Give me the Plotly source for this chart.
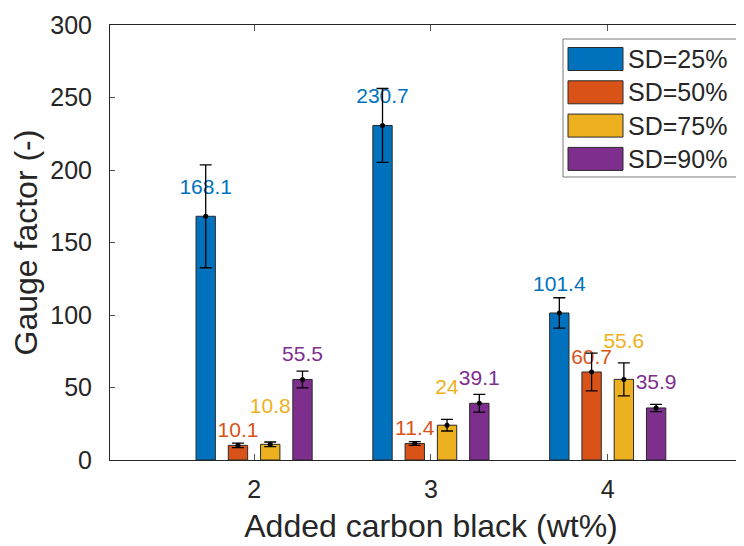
import plotly.graph_objects as go

# ---- data ----
categories = [2, 3, 4]
series_names = ["SD=25%", "SD=50%", "SD=75%", "SD=90%"]
sd25 = [168.1, 230.7, 101.4]
sd50 = [10.1, 11.4, 60.7]
sd75 = [10.8, 24.0, 55.6]
sd90 = [55.5, 39.1, 35.9]
err25 = [35.5, 25.5, 10.5]
err50 = [1.6, 1.3, 13.0]
err75 = [1.6, 4.0, 11.4]
err90 = [5.8, 6.1, 2.5]
y_ticks = [0, 50, 100, 150, 200, 250, 300]

values = [sd25, sd50, sd75, sd90]
errors = [err25, err50, err75, err90]

# ---- style ----
colors = ["#0072BD", "#D95319", "#EDB120", "#7E2F8E"]
label_offsets = [19.0, 9.3, 25.2, 16.5]   # label lift above bar top (data units)
FONT = "Liberation Sans, Arial, sans-serif"
AXC = "#262626"
W, H = 744, 546
OFF = 8  # page body margin
ML, MT, MB, MR = 102, 17, 94, 0
bargap = 0.27
slot = (1 - bargap) / len(values)

fig = go.Figure()
for name, vals, col in zip(series_names, values, colors):
    fig.add_trace(go.Bar(
        x=categories, y=vals, name=name, marker_color=col,
        marker_line=dict(color="#2a2a2a", width=1), showlegend=False,
    ))

# value labels (under the error bars)
for i, (vals, col, off) in enumerate(zip(values, colors, label_offsets)):
    xs = [c + (i - 1.5) * slot for c in categories]
    fig.add_trace(go.Scatter(
        x=xs, y=[v + off for v in vals], mode="text",
        text=[f"{v:g}" for v in vals], textposition="middle center",
        textfont=dict(family=FONT, size=21, color=col),
        showlegend=False, hoverinfo="skip",
    ))

# error bars with dots
for i, (vals, errs) in enumerate(zip(values, errors)):
    xs = [c + (i - 1.5) * slot for c in categories]
    fig.add_trace(go.Scatter(
        x=xs, y=vals, mode="markers",
        marker=dict(color="black", size=5),
        error_y=dict(type="data", array=errs, visible=True,
                     color="black", thickness=1.3, width=6),
        showlegend=False,
    ))

# ---- manual legend (MATLAB-style) ----
def px2paper(x, y):
    # window pixel -> paper coords
    pw = W - ML - MR
    ph = H - MT - MB
    return (x - OFF - ML) / pw, (H - MB - (y - OFF)) / ph

bx0, by0 = px2paper(563, 39)
bx1, by1 = px2paper(739, 177)
fig.add_shape(type="rect", xref="paper", yref="paper", x0=bx0, y0=by1, x1=bx1, y1=by0,
              line=dict(color="#7a7a7a", width=1), fillcolor="white", layer="above")
for k, (name, col) in enumerate(zip(series_names, colors)):
    cy = 59 + k * 33.3
    x0, y0 = px2paper(568, cy - 11.5)
    x1, y1 = px2paper(623, cy + 11.5)
    fig.add_shape(type="rect", xref="paper", yref="paper", x0=x0, y0=y1, x1=x1, y1=y0,
                  line=dict(color="#2a2a2a", width=1), fillcolor=col, layer="above")
    tx, ty = px2paper(626, cy)
    fig.add_annotation(xref="paper", yref="paper", x=tx, y=ty, text=name,
                       showarrow=False, xanchor="left", yanchor="middle",
                       font=dict(family=FONT, size=25, color=AXC))

fig.update_layout(
    width=W, height=H,
    margin=dict(l=ML, r=MR, t=MT, b=MB, pad=0, autoexpand=False),
    paper_bgcolor="white", plot_bgcolor="white",
    barmode="group", bargap=bargap, bargroupgap=0.4,
    font=dict(family=FONT, color=AXC),
    xaxis=dict(
        range=[1.185, 4.816], tickvals=categories, ticktext=[str(c) for c in categories],
        ticks="inside", ticklen=6, tickcolor="#555", tickwidth=1,
        showline=True, linecolor=AXC, linewidth=1, mirror="ticks",
        showgrid=False, zeroline=False, automargin=False,
        tickfont=dict(family=FONT, size=25, color=AXC),
        ticklabelstandoff=7,
        title=dict(text="Added carbon black (wt%)", font=dict(family=FONT, size=32, color=AXC),
                   standoff=12),
    ),
    yaxis=dict(
        range=[0, 300], tickvals=y_ticks,
        ticks="inside", ticklen=5, tickcolor="#555", tickwidth=1,
        showline=True, linecolor=AXC, linewidth=1, mirror=False,
        showgrid=False, zeroline=False, automargin=False,
        tickfont=dict(family=FONT, size=25, color=AXC),
        ticklabelstandoff=12,
        title=dict(text="Gauge factor (-)", font=dict(family=FONT, size=32, color=AXC),
                   standoff=8),
    ),
)

fig.write_html("out.html")
